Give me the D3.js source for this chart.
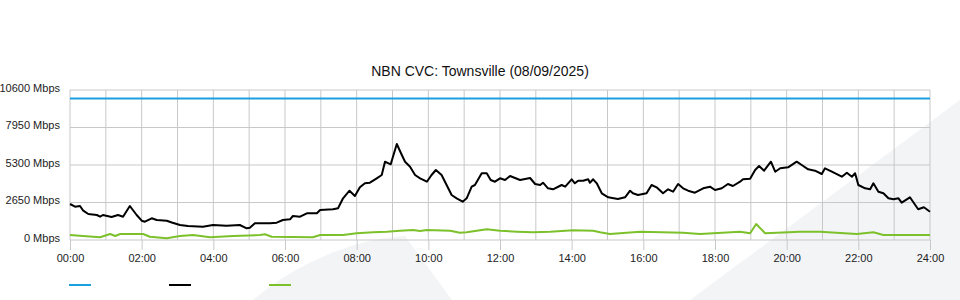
<!DOCTYPE html>
<html>
<head>
<meta charset="utf-8">
<script src="https://cdn.jsdelivr.net/npm/d3@7"></script>
<style>
  body { margin: 0; background: #fff; }
  svg { display: block; font-family: 'Liberation Sans', Arial, sans-serif; }
</style>
</head>
<body>
<div id="chart"></div>
<script>
// capacity (blue), traffic (black), second traffic series (green) - hours since midnight / Mbps
let capacityHours = [0, 24]
let capacityMbps = [10000, 10000]

let trafficHours = [0, 0.14, 0.28, 0.37, 0.51, 0.75, 0.84, 0.92, 1.16, 1.34, 1.48, 1.67, 1.86, 2.0, 2.09, 2.28, 2.42, 2.7, 2.84, 3.07, 3.29, 3.71, 3.99, 4.37, 4.74, 4.93, 5.02, 5.16, 5.58, 5.77, 5.94, 6.14, 6.22, 6.42, 6.61, 6.89, 6.98, 7.34, 7.48, 7.62, 7.8, 7.95, 8.09, 8.23, 8.37, 8.56, 8.7, 8.79, 8.95, 9.12, 9.26, 9.35, 9.49, 9.63, 9.77, 9.96, 10.09, 10.21, 10.37, 10.51, 10.65, 10.79, 10.96, 11.07, 11.21, 11.3, 11.49, 11.63, 11.74, 11.86, 12.0, 12.14, 12.28, 12.42, 12.56, 12.7, 12.84, 12.98, 13.12, 13.2, 13.34, 13.48, 13.72, 13.82, 14.0, 14.09, 14.18, 14.32, 14.46, 14.51, 14.6, 14.7, 14.84, 15.02, 15.29, 15.49, 15.63, 15.71, 15.85, 16.09, 16.23, 16.37, 16.55, 16.69, 16.83, 16.97, 17.11, 17.25, 17.44, 17.67, 17.86, 18.0, 18.19, 18.36, 18.5, 18.7, 18.78, 18.98, 19.12, 19.23, 19.37, 19.56, 19.68, 19.82, 20.04, 20.28, 20.42, 20.6, 20.79, 20.98, 21.07, 21.26, 21.54, 21.68, 21.82, 21.91, 22.0, 22.19, 22.33, 22.42, 22.56, 22.7, 22.84, 22.98, 23.12, 23.21, 23.44, 23.67, 23.83, 24.0]
let trafficMbps = [2544, 2353, 2403, 2071, 1837, 1767, 1647, 1767, 1625, 1767, 1647, 2403, 1767, 1364, 1293, 1533, 1413, 1364, 1237, 1060, 989, 940, 1060, 1011, 1060, 827, 869, 1180, 1180, 1223, 1413, 1463, 1696, 1647, 1887, 1887, 2120, 2169, 2240, 2947, 3484, 3109, 3724, 4007, 4049, 4360, 4593, 5533, 5349, 6784, 6007, 5533, 5180, 4593, 4360, 4120, 4593, 4947, 4593, 3887, 3180, 2947, 2707, 2947, 3767, 3887, 4713, 4713, 4240, 4120, 4360, 4240, 4523, 4381, 4240, 4311, 4381, 3957, 3887, 4049, 3653, 3583, 3887, 3767, 4289, 4007, 4190, 4190, 4289, 4049, 4289, 4007, 3300, 3017, 2897, 3017, 3484, 3300, 3180, 3300, 3887, 3724, 3300, 3583, 3413, 3957, 3653, 3484, 3343, 3653, 3767, 3533, 3653, 3957, 3816, 4120, 4289, 4332, 4947, 5229, 4897, 5533, 4826, 5067, 5137, 5533, 5300, 4996, 4897, 4664, 5067, 4826, 4473, 4756, 4473, 4713, 3887, 3653, 3583, 4007, 3413, 3300, 2947, 2876, 2947, 2636, 3017, 2169, 2311, 2000]

let greenHours = [0, 0.36, 0.84, 1.12, 1.26, 1.4, 2.04, 2.23, 2.7, 3.07, 3.43, 3.91, 4.55, 5.3, 5.44, 5.63, 6.78, 6.98, 7.62, 8.0, 8.46, 8.84, 9.21, 9.57, 9.77, 9.96, 10.61, 10.88, 11.07, 11.35, 11.63, 12.0, 12.47, 12.92, 13.4, 14.04, 14.6, 14.79, 15.07, 15.91, 17.11, 17.58, 18.7, 18.98, 19.15, 19.4, 20.37, 20.93, 21.96, 22.42, 22.7, 24.0]
let greenMbps = [353, 283, 191, 424, 283, 424, 424, 233, 120, 283, 353, 191, 283, 353, 403, 233, 191, 353, 353, 473, 544, 587, 657, 707, 636, 707, 657, 516, 544, 657, 756, 657, 587, 544, 587, 685, 657, 544, 424, 587, 516, 424, 587, 473, 1131, 473, 587, 587, 424, 544, 353, 353]

let yTicks = [0, 2650, 5300, 7950, 10600]
let xTickHours = [0, 2, 4, 6, 8, 10, 12, 14, 16, 18, 20, 22, 24]
let legendColors = ['#1aa0e0', '#000000', '#7cc12c']

let width = 960
let height = 300
let margin = { top: 90, left: 70, right: 30, bottom: 60 }
let plotW = width - margin.left - margin.right
let plotH = height - margin.top - margin.bottom

let svg = d3.select('#chart')
  .append('svg')
  .attr('width', width)
  .attr('height', height)

// faint background swoosh
svg.append('path')
  .attr('d', 'M253,300 C300,260 360,238 405,236 L452,300 Z M690,300 L960,100 L960,300 Z')
  .attr('fill', '#f3f4f6')

svg.append('text')
  .attr('x', width / 2)
  .attr('y', 76)
  .attr('text-anchor', 'middle')
  .attr('font-size', 14)
  .attr('fill', '#111')
  .text('NBN CVC: Townsville (08/09/2025)')

let g = svg.append('g')
  .attr('transform', 'translate(' + margin.left + ',' + margin.top + ')')

let x = d3.scaleLinear().domain([0, 24]).range([0, plotW])
let y = d3.scaleLinear().domain([0, 10600]).range([plotH, 0])

// grid: every hour vertical, y ticks horizontal
g.append('g')
  .selectAll('line')
  .data(d3.range(0, 25))
  .enter().append('line')
  .attr('x1', d => x(d)).attr('x2', d => x(d))
  .attr('y1', 0).attr('y2', plotH)
  .attr('stroke', '#c8c8c8')

g.append('g')
  .selectAll('line')
  .data(yTicks)
  .enter().append('line')
  .attr('x1', 0).attr('x2', plotW)
  .attr('y1', d => y(d)).attr('y2', d => y(d))
  .attr('stroke', '#c8c8c8')

let xAxis = g.append('g')
  .attr('transform', 'translate(0,' + plotH + ')')
  .call(d3.axisBottom(x).tickValues(xTickHours).tickSize(10).tickPadding(4)
    .tickFormat(d => String(d).padStart(2, '0') + ':00'))
xAxis.select('.domain').remove()
xAxis.selectAll('line').attr('stroke', '#c8c8c8')
xAxis.selectAll('text').attr('font-size', 11).attr('fill', '#222')
  .attr('font-family', "'Liberation Sans', Arial, sans-serif")

let yAxis = g.append('g')
  .call(d3.axisLeft(y).tickValues(yTicks).tickSize(0).tickPadding(10)
    .tickFormat(d => d + ' Mbps'))
yAxis.select('.domain').remove()
yAxis.selectAll('text').attr('font-size', 11).attr('fill', '#222').attr('dy', '0.1em')
  .attr('font-family', "'Liberation Sans', Arial, sans-serif")

let line = d3.line()
  .x(d => x(d[0]))
  .y(d => y(d[1]))

let series = [
  { color: legendColors[0], pts: d3.zip(capacityHours, capacityMbps) },
  { color: legendColors[2], pts: d3.zip(greenHours, greenMbps) },
  { color: legendColors[1], pts: d3.zip(trafficHours, trafficMbps) }
]

g.append('g')
  .selectAll('path')
  .data(series)
  .enter().append('path')
  .attr('d', d => line(d.pts))
  .attr('fill', 'none')
  .attr('stroke', d => d.color)
  .attr('stroke-width', 2)
  .attr('stroke-linejoin', 'round')

// legend swatches (no labels shown)
svg.append('g')
  .selectAll('line')
  .data(legendColors)
  .enter().append('line')
  .attr('x1', (d, i) => 69 + i * 100)
  .attr('x2', (d, i) => 91 + i * 100)
  .attr('y1', 285).attr('y2', 285)
  .attr('stroke', d => d)
  .attr('stroke-width', 2)
</script>
</body>
</html>
